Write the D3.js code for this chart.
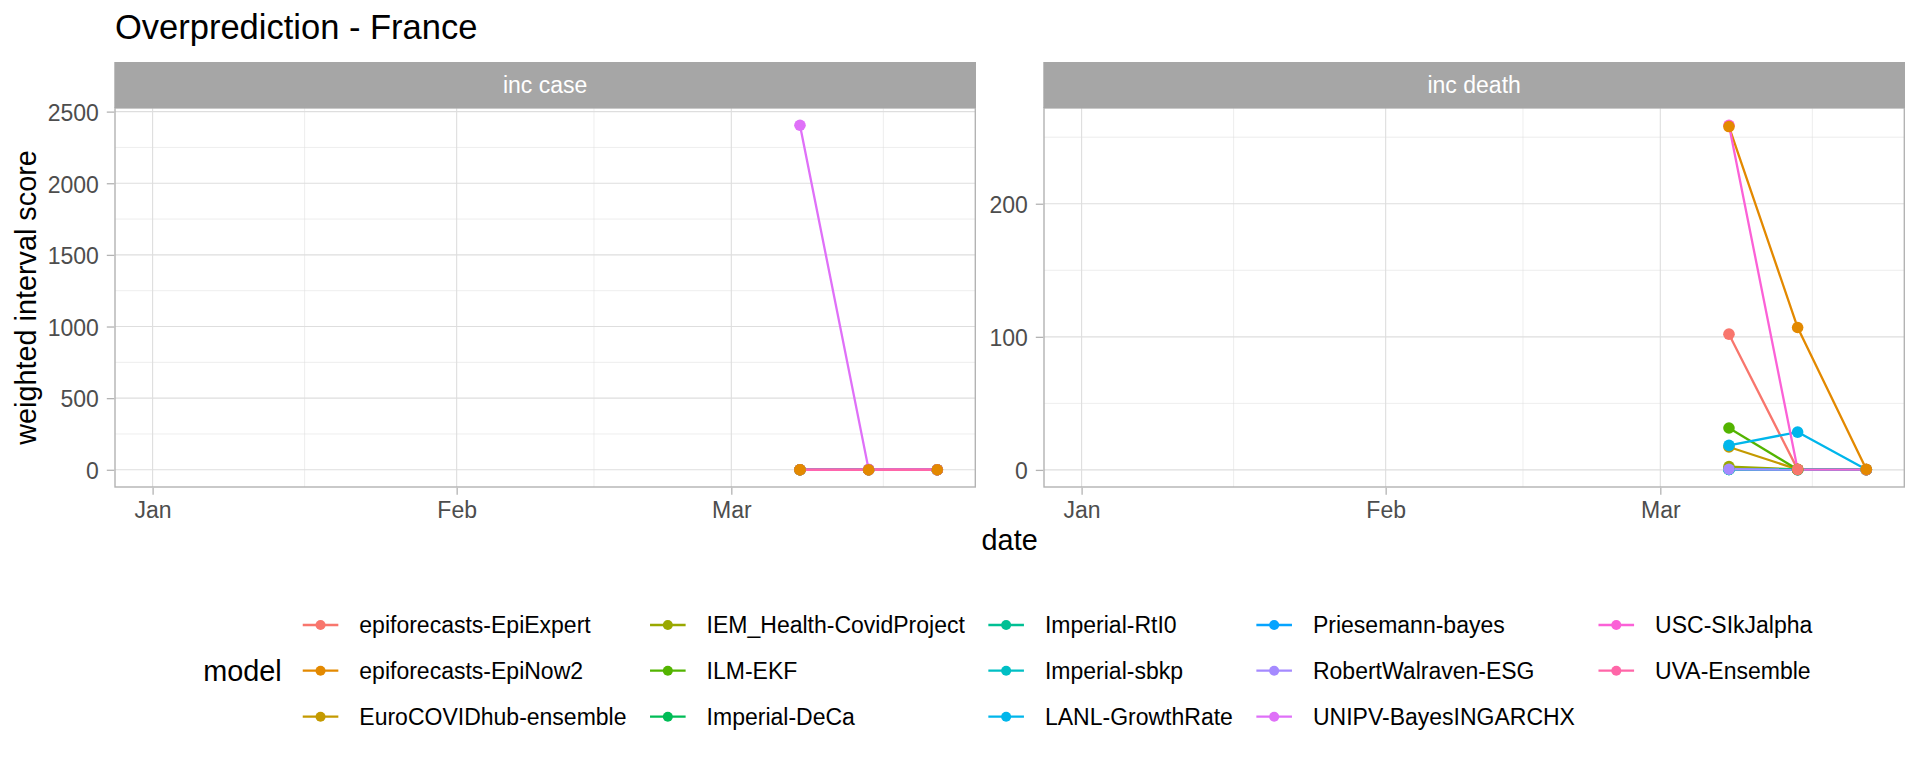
<!DOCTYPE html>
<html>
<head>
<meta charset="utf-8">
<script src="https://cdn.jsdelivr.net/npm/d3@7"></script>
<style>
  html, body { margin: 0; padding: 0; background: #ffffff; }
  svg { display: block; font-family: "Liberation Sans", Arial, Helvetica, sans-serif; }
</style>
</head>
<body>
<script>
// ---------------- DATA ----------------
const chartTitle = "Overprediction - France";
const panels = ["inc case", "inc death"];
const models = [
  "epiforecasts-EpiExpert", "epiforecasts-EpiNow2", "EuroCOVIDhub-ensemble",
  "IEM_Health-CovidProject", "ILM-EKF", "Imperial-DeCa",
  "Imperial-RtI0", "Imperial-sbkp", "LANL-GrowthRate",
  "Priesemann-bayes", "RobertWalraven-ESG", "UNIPV-BayesINGARCHX",
  "USC-SIkJalpha", "UVA-Ensemble"
];
const modelColors = [
  "#F8766D", "#E38900", "#C49A00", "#99A800", "#53B400", "#00BC56", "#00C094",
  "#00BFC4", "#00B6EB", "#06A4FF", "#A58AFF", "#DF70F8", "#FB61D7", "#FF66A8"
];
const dates = ["2021-03-08", "2021-03-15", "2021-03-22"];
const xLimits = ["2020-12-28T04:00:00", "2021-03-25T21:00:00"];
const yBreakStep = [500, 100];

// inc case (listed in the order the points are drawn)
const caseModels = [
  "UVA-Ensemble", "USC-SIkJalpha", "Priesemann-bayes", "LANL-GrowthRate", "ILM-EKF",
  "EuroCOVIDhub-ensemble", "epiforecasts-EpiExpert", "UNIPV-BayesINGARCHX", "epiforecasts-EpiNow2"
];
const caseValues = [
  [0.5, 0.4, 0.3],
  [0.4, 0.3, 0.2],
  [0.3, 0.2, 0.1],
  [0.6, 0.3, 0.2],
  [0.4, 0.2, 0.1],
  [0.3, 0.2, 0.1],
  [0.5, 0.3, 0.2],
  [2405, 3, 0.5],
  [0.4, 0.3, 0.2]
];

// inc death (listed in the order the points are drawn)
const deathModels = [
  "Imperial-DeCa", "Imperial-RtI0", "Imperial-sbkp", "USC-SIkJalpha", "IEM_Health-CovidProject",
  "RobertWalraven-ESG", "EuroCOVIDhub-ensemble", "ILM-EKF", "LANL-GrowthRate",
  "epiforecasts-EpiExpert", "epiforecasts-EpiNow2"
];
const deathValues = [
  [0.3, 0.2, 0.1],
  [0.4, 0.2, 0.1],
  [0.3, 0.1, 0.1],
  [259, 0.3, 0.2],
  [2.5, 0.3, null],
  [0.5, 0.2, null],
  [17.2, 0.4, 0.2],
  [31.5, 0.3, null],
  [18.4, 28.4, 0.3],
  [102, 0.4, 0.2],
  [258, 107, 0.5]
];

// ---------------- LAYOUT ----------------
const W = 1920, H = 768;
const panelLeft = [115, 1044];
const panelW = 860.3;
const panelTop = 108, panelBottom = 487, stripTop = 62;
const font = '"Liberation Sans", Arial, Helvetica, sans-serif';
const colorOf = m => modelColors[models.indexOf(m)];

const svg = d3.select("body").append("svg")
  .attr("width", W).attr("height", H)
  .attr("viewBox", `0 0 ${W} ${H}`);
svg.append("rect").attr("width", W).attr("height", H).attr("fill", "#ffffff");

// title
svg.append("text")
  .attr("x", 115).attr("y", 39)
  .attr("font-size", 34.5).attr("fill", "#000000")
  .text(chartTitle);

const dateObjs = dates.map(d => new Date(d + "T00:00:00"));

const panelData = [
  { models: caseModels, values: caseValues },
  { models: deathModels, values: deathValues }
];

panelData.forEach((pd, pi) => {
  const x0 = panelLeft[pi], x1 = x0 + panelW;
  const x = d3.scaleTime()
    .domain(xLimits.map(d => new Date(d)))
    .range([x0, x1]);
  const allVals = pd.values.flat().filter(v => v != null);
  const ext = d3.extent(allVals);
  const pad = (ext[1] - ext[0]) * 0.05;
  const y = d3.scaleLinear()
    .domain([ext[0] - pad, ext[1] + pad])
    .range([panelBottom, panelTop]);

  const g = svg.append("g");
  const clipId = "clip" + pi;
  svg.append("clipPath").attr("id", clipId)
    .append("rect").attr("x", x0).attr("y", panelTop)
    .attr("width", panelW).attr("height", panelBottom - panelTop);

  const grid = g.append("g").attr("clip-path", `url(#${clipId})`);

  // x breaks
  const xd = x.domain();
  const xMajor = d3.timeMonth.range(d3.timeMonth.floor(xd[0]), d3.timeMonth.offset(xd[1], 1))
    .filter(d => d >= xd[0] && d <= xd[1]);
  const allMonths = d3.timeMonth.range(d3.timeMonth.offset(d3.timeMonth.floor(xd[0]), -1), d3.timeMonth.offset(xd[1], 2));
  const xMinor = [];
  for (let i = 0; i < allMonths.length - 1; i++) {
    const mid = new Date((allMonths[i].getTime() + allMonths[i + 1].getTime()) / 2);
    if (mid >= xd[0] && mid <= xd[1]) xMinor.push(mid);
  }
  // y breaks
  const yd = y.domain();
  const step = yBreakStep[pi];
  const yMajor = d3.range(Math.ceil(yd[0] / step) * step, yd[1] + 1e-9, step);
  const yMinor = d3.range(Math.ceil((yd[0] - step / 2) / step) * step + step / 2, yd[1], step)
    .filter(v => v >= yd[0] && v <= yd[1]);

  grid.selectAll(".ymin").data(yMinor).enter().append("line")
    .attr("x1", x0).attr("x2", x1)
    .attr("y1", d => y(d)).attr("y2", d => y(d))
    .attr("stroke", "#DEDEDE").attr("stroke-width", 0.55);
  grid.selectAll(".xmin").data(xMinor).enter().append("line")
    .attr("y1", panelTop).attr("y2", panelBottom)
    .attr("x1", d => x(d)).attr("x2", d => x(d))
    .attr("stroke", "#DEDEDE").attr("stroke-width", 0.55);
  grid.selectAll(".ymaj").data(yMajor).enter().append("line")
    .attr("x1", x0).attr("x2", x1)
    .attr("y1", d => y(d)).attr("y2", d => y(d))
    .attr("stroke", "#DEDEDE").attr("stroke-width", 1.1);
  grid.selectAll(".xmaj").data(xMajor).enter().append("line")
    .attr("y1", panelTop).attr("y2", panelBottom)
    .attr("x1", d => x(d)).attr("x2", d => x(d))
    .attr("stroke", "#DEDEDE").attr("stroke-width", 1.1);

  // series
  const series = pd.models.map((m, i) => ({
    model: m,
    pts: pd.values[i].map((v, j) => ({ date: dateObjs[j], value: v })).filter(p => p.value != null)
  }));
  const lineOrder = series.slice().sort((a, b) => models.indexOf(a.model) - models.indexOf(b.model));
  const line = d3.line().x(d => x(d.date)).y(d => y(d.value));
  const marks = g.append("g").attr("clip-path", `url(#${clipId})`);
  marks.selectAll(".ln").data(lineOrder).enter().append("path")
    .attr("d", d => line(d.pts))
    .attr("fill", "none")
    .attr("stroke", d => colorOf(d.model))
    .attr("stroke-width", 2.3)
    .attr("stroke-linejoin", "round");
  series.forEach(s => {
    marks.selectAll(null).data(s.pts).enter().append("circle")
      .attr("cx", d => x(d.date)).attr("cy", d => y(d.value))
      .attr("r", 5.8).attr("fill", colorOf(s.model));
  });

  // panel border
  g.append("rect")
    .attr("x", x0).attr("y", panelTop)
    .attr("width", panelW).attr("height", panelBottom - panelTop)
    .attr("fill", "none").attr("stroke", "#B3B3B3").attr("stroke-width", 1.4);

  // strip
  g.append("rect")
    .attr("x", x0 - 0.7).attr("y", stripTop)
    .attr("width", panelW + 1.4).attr("height", panelTop - stripTop)
    .attr("fill", "#A6A6A6");
  g.append("text")
    .attr("x", (x0 + x1) / 2).attr("y", (stripTop + panelTop) / 2)
    .attr("dy", "0.35em").attr("text-anchor", "middle")
    .attr("font-size", 23).attr("fill", "#ffffff")
    .text(panels[pi]);

  // axes
  const yAxis = svg.append("g")
    .attr("transform", `translate(${x0 - 0.7},0)`)
    .call(d3.axisLeft(y).tickValues(yMajor).tickSize(7.5).tickPadding(8).tickFormat(d3.format("d")));
  const xAxis = svg.append("g")
    .attr("transform", `translate(0,${panelBottom + 0.7})`)
    .call(d3.axisBottom(x).tickValues(xMajor).tickSize(7).tickPadding(7).tickFormat(d3.timeFormat("%b")));
  [yAxis, xAxis].forEach(ax => {
    ax.select(".domain").remove();
    ax.selectAll(".tick line").attr("stroke", "#B3B3B3").attr("stroke-width", 1.3);
    ax.selectAll(".tick text").attr("fill", "#4D4D4D").attr("font-size", 23).attr("font-family", font);
  });
  yAxis.selectAll(".tick text").attr("dy", "0.38em");
  xAxis.selectAll(".tick text").attr("dy", "0.71em");
});

// axis titles
svg.append("text")
  .attr("x", (panelLeft[0] + panelLeft[1] + panelW) / 2).attr("y", 550)
  .attr("text-anchor", "middle").attr("font-size", 28.8).attr("fill", "#000")
  .text("date");
svg.append("text")
  .attr("transform", `translate(36,${(panelTop + panelBottom) / 2}) rotate(-90)`)
  .attr("text-anchor", "middle").attr("font-size", 28.8).attr("fill", "#000")
  .text("weighted interval score");

// legend
const rowY = [625, 670.7, 716.7];
const legend = svg.append("g");
const lt = legend.append("text")
  .attr("x", 0).attr("y", rowY[1]).attr("dy", "0.35em")
  .attr("font-size", 28.8).attr("fill", "#000").text("model");
const titleW = lt.node().getComputedTextLength();
let cx = titleW + 21;
const keyW = 35.6, keyTextGap = 56.6, colPad = 23.5;
const nCols = Math.ceil(models.length / 3);
for (let c = 0; c < nCols; c++) {
  const items = models.slice(c * 3, c * 3 + 3);
  let maxW = 0;
  items.forEach((m, r) => {
    const col = colorOf(m);
    legend.append("line")
      .attr("x1", cx).attr("x2", cx + keyW)
      .attr("y1", rowY[r]).attr("y2", rowY[r])
      .attr("stroke", col).attr("stroke-width", 2.3);
    legend.append("circle")
      .attr("cx", cx + keyW / 2).attr("cy", rowY[r]).attr("r", 5)
      .attr("fill", col);
    const t = legend.append("text")
      .attr("x", cx + keyTextGap).attr("y", rowY[r]).attr("dy", "0.35em")
      .attr("font-size", 23).attr("fill", "#000").text(m);
    maxW = Math.max(maxW, t.node().getComputedTextLength());
  });
  cx += keyTextGap + maxW + (c < nCols - 1 ? colPad : 0);
}
legend.attr("transform", `translate(203.3,0)`);
</script>
</body>
</html>
